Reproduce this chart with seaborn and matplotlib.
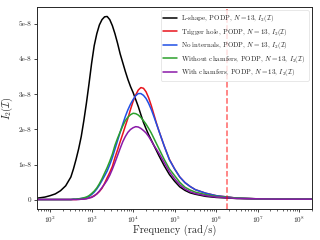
import numpy as np
import pandas as pd
import matplotlib
matplotlib.use("Agg")
import matplotlib.pyplot as plt
import seaborn as sns

log_freq = [1.7, 1.875, 2.0, 2.125, 2.25, 2.375, 2.5,
            2.5625, 2.625, 2.6875, 2.75, 2.8125, 2.875, 2.9375, 3.0, 3.0625, 3.125,
            3.1875, 3.25, 3.3125, 3.375, 3.4375, 3.5, 3.5625, 3.625, 3.6875, 3.75,
            3.8125, 3.875, 3.9375, 4.0, 4.0625, 4.125, 4.1875, 4.25, 4.3125, 4.375,
            4.4375, 4.5, 4.5625, 4.625,
            4.75, 4.875, 5.0, 5.125, 5.25, 5.375, 5.5, 5.75, 6.0, 6.5, 7.0, 7.5, 8.0, 8.3]

# I2 values in units of 1e-8
lshape = [0.05, 0.08, 0.12, 0.17, 0.26, 0.40, 0.65,
          0.88, 1.15, 1.45, 1.80, 2.25, 2.75, 3.30, 3.88, 4.38, 4.72,
          4.97, 5.12, 5.20, 5.21, 5.12, 4.95, 4.72, 4.45, 4.15, 3.90,
          3.65, 3.42, 3.22, 3.05, 2.85, 2.65, 2.42, 2.20, 2.02, 1.85,
          1.70, 1.55, 1.40, 1.25,
          0.97, 0.72, 0.53, 0.37, 0.27, 0.20, 0.16, 0.10, 0.07, 0.04, 0.03, 0.02, 0.02, 0.02]
trigger = [0.01, 0.01, 0.01, 0.01, 0.01, 0.01, 0.01,
           0.01, 0.01, 0.02, 0.02, 0.03, 0.04, 0.06, 0.08, 0.12, 0.17,
           0.24, 0.33, 0.47, 0.63, 0.78, 0.95, 1.20, 1.42, 1.65, 1.87,
           2.10, 2.32, 2.57, 2.80, 2.98, 3.12, 3.19, 3.17, 3.07, 2.90,
           2.68, 2.43, 2.18, 1.95,
           1.53, 1.15, 0.88, 0.65, 0.49, 0.38, 0.29, 0.19, 0.12, 0.05, 0.03, 0.02, 0.02, 0.02]
no_internals = [0.01, 0.01, 0.01, 0.01, 0.01, 0.01, 0.01,
                0.02, 0.02, 0.03, 0.04, 0.05, 0.07, 0.10, 0.15, 0.22, 0.31,
                0.42, 0.55, 0.68, 0.82, 1.00, 1.20, 1.44, 1.68, 1.92, 2.15,
                2.37, 2.56, 2.72, 2.85, 2.96, 3.02, 3.02, 2.97, 2.88, 2.74,
                2.57, 2.37, 2.16, 1.95,
                1.53, 1.14, 0.88, 0.65, 0.49, 0.38, 0.29, 0.19, 0.12, 0.05, 0.03, 0.02, 0.02, 0.02]
no_chamfers = [0.01, 0.01, 0.01, 0.01, 0.01, 0.01, 0.01,
               0.02, 0.02, 0.03, 0.04, 0.06, 0.08, 0.12, 0.18, 0.25, 0.34,
               0.46, 0.60, 0.76, 0.92, 1.10, 1.30, 1.55, 1.75, 1.93, 2.10,
               2.25, 2.35, 2.42, 2.46, 2.45, 2.41, 2.34, 2.25, 2.15, 2.03,
               1.90, 1.75, 1.60, 1.45,
               1.15, 0.88, 0.69, 0.50, 0.36, 0.28, 0.22, 0.15, 0.10, 0.05, 0.03, 0.02, 0.02, 0.02]
chamfers = [0.01, 0.01, 0.01, 0.01, 0.01, 0.01, 0.01,
            0.01, 0.01, 0.01, 0.02, 0.02, 0.03, 0.05, 0.07, 0.11, 0.17,
            0.25, 0.35, 0.45, 0.56, 0.70, 0.87, 1.06, 1.26, 1.46, 1.65,
            1.80, 1.92, 2.00, 2.05, 2.08, 2.07, 2.03, 1.97, 1.90, 1.80,
            1.68, 1.55, 1.44, 1.32,
            1.06, 0.80, 0.60, 0.43, 0.31, 0.23, 0.18, 0.12, 0.08, 0.04, 0.03, 0.02, 0.02, 0.02]

labels = [
    r"L-shape, PODP, $N=13$, $I_2(\mathcal{I})$",
    r"Trigger hole, PODP, $N=13$, $I_2(\mathcal{I})$",
    r"No internals, PODP, $N=13$, $I_2(\mathcal{I})$",
    r"Without chamfers, PODP, $N=13$, $I_2(\mathcal{I})$",
    r"With chamfers, PODP, $N=13$, $I_2(\mathcal{I})$",
]
colors = ["black", "#e8141c", "#1f4fe6", "#2ca02c", "#8a1aa8"]
cutoff = 1.8e6

sns.set_style("ticks")
plt.rcParams["font.family"] = ["cmr10", "DejaVu Serif"]
plt.rcParams["mathtext.fontset"] = "cm"
plt.rcParams["axes.formatter.use_mathtext"] = True

freq = 10 ** np.array(log_freq)
rows = []
for lab, vals in zip(labels, [lshape, trigger, no_internals, no_chamfers, chamfers]):
    for f, v in zip(freq, vals):
        rows.append({"freq": f, "I2": v * 1e-8, "series": lab})
df = pd.DataFrame(rows)

fig = plt.figure(figsize=(3.2, 2.4), dpi=100)
ax = fig.add_axes([0.116, 0.129, 0.859, 0.842])

sns.lineplot(data=df, x="freq", y="I2", hue="series", hue_order=labels,
             palette=dict(zip(labels, colors)), sort=False, linewidth=1.1, ax=ax)
ax.axvline(cutoff, color="red", alpha=0.6, linestyle="--", linewidth=1.1)

ax.set_xscale("log")
ax.set_xlim(48.6, 2.05e8)
ax.set_ylim(-0.26e-8, 5.48e-8)
ax.set_yticks([0, 1e-8, 2e-8, 3e-8, 4e-8, 5e-8])
ax.set_yticklabels(["0", "1e-8", "2e-8", "3e-8", "4e-8", "5e-8"])
ax.set_xticks([1e2, 1e3, 1e4, 1e5, 1e6, 1e7, 1e8])
ax.tick_params(axis="both", which="major", labelsize=5.2, length=2.5, width=0.6, pad=1.5)
ax.tick_params(axis="both", which="minor", length=1.5, width=0.5)
for s in ax.spines.values():
    s.set_linewidth(0.7)

ax.set_xlabel("Frequency (rad/s)", fontsize=7.5)
ax.xaxis.set_label_coords(0.5, -0.08)
ax.set_ylabel(r"$I_2(\mathcal{I})$", fontsize=7.5)
ax.yaxis.set_label_coords(-0.08, 0.5)

leg = ax.legend(loc="upper right", fontsize=5.0, handlelength=2.0, borderpad=0.4,
                labelspacing=0.35, handletextpad=0.6, frameon=True)
leg.get_frame().set_edgecolor("#dddddd")
leg.get_frame().set_linewidth(0.6)

fig.savefig("out.png", dpi=100)
